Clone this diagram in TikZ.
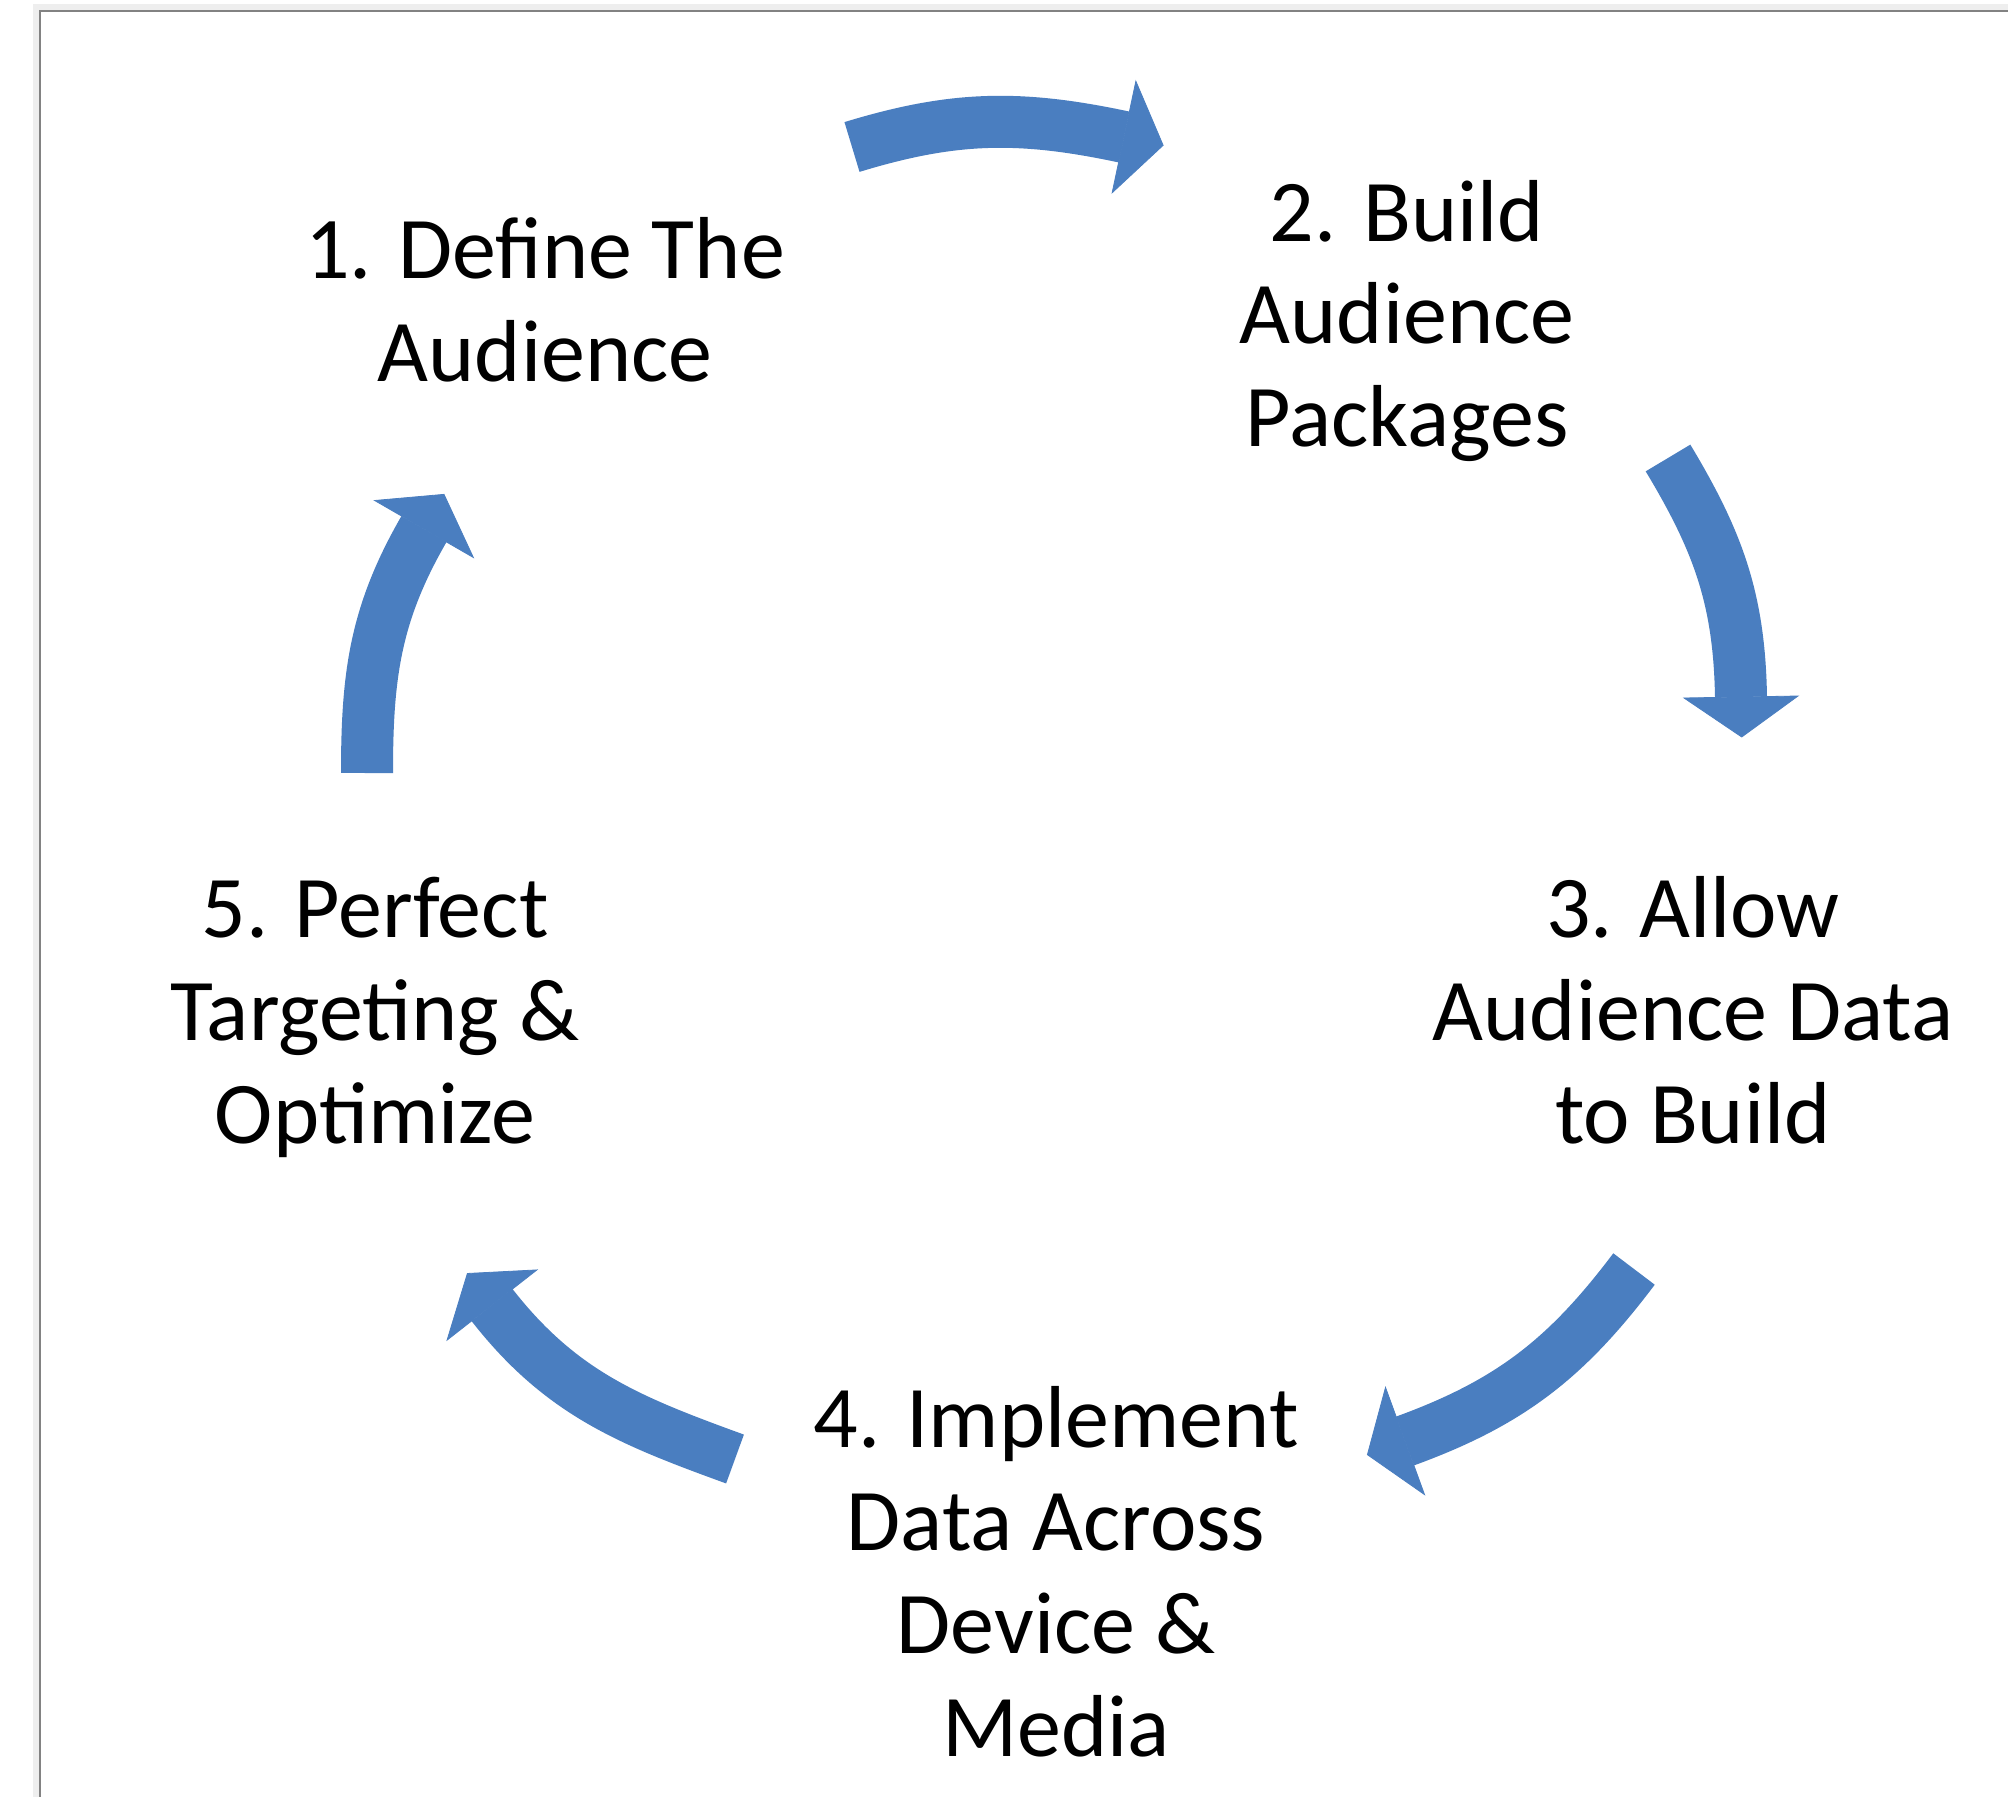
\documentclass[tikz,border=0pt]{standalone}
\usepackage{fontspec}
\setmainfont{Carlito}
\usetikzlibrary{calc}
\definecolor{cycleblue}{RGB}{74,126,192}
\definecolor{framegray}{RGB}{130,130,130}
\definecolor{frameshade}{RGB}{238,238,238}

% curved cycle arrow: #1 tail point, #2 leaving angle, #3 centre of the head's base, #4 heading of the tip
\newcommand{\cyclearrow}[4]{%
  \pgfmathsetmacro{\cycin}{#4+180}%
  \pgfmathsetmacro{\cycl}{#4+90}%
  \pgfmathsetmacro{\cycr}{#4-90}%
  \draw[cyclebody] (#1) to[out=#2,in=\cycin] (#3);
  \filldraw[cyclehead] ($(#3)+(\cycl:57)$) -- ($(#3)+(#4:40)$) -- ($(#3)+(\cycr:57)$) -- cycle;
}

\begin{document}
\begin{tikzpicture}[x=0.5pt,y=0.5pt,
  % labels are anchored at the baseline of their last line
  steplabel/.style={font=\fontsize{44pt}{51.5pt}\selectfont, align=center,
    inner sep=0pt, anchor=base, text=black},
  cyclebody/.style={draw=cycleblue, line width=26pt, line cap=butt},
  cyclehead/.style={fill=cycleblue, draw=cycleblue, line width=0.4pt, line join=miter}]
\useasboundingbox (0,-1797) rectangle (2008,0);
\fill[white] (0,-1797) rectangle (2008,0);

% open frame with a soft edge
\draw[frameshade, line width=3pt] (36,-1797) -- (36,-7) -- (2008,-7);
\draw[framegray, line width=1pt] (40,-1797) -- (40,-11) -- (2008,-11);

% step labels
\node[steplabel] (s1) at (545,-382)  {1. Define The\\Audience};
\node[steplabel] (s2) at (1407,-447) {2. Build\\Audience\\Packages};
\node[steplabel] (s3) at (1693,-1143) {3. Allow\\Audience Data\\to Build};
\node[steplabel] (s4) at (1056,-1756) {4. Implement\\Data Across\\Device \&\\Media};
\node[steplabel] (s5) at (375,-1143)  {5. Perfect\\Targeting \&\\Optimize};

% arrow ends
\coordinate (t1) at (852,-147);  \coordinate (h1) at (1124,-137);
\coordinate (t2) at (1668,-458); \coordinate (h2) at (1741,-697);
\coordinate (t3) at (1634,-1269); \coordinate (h3) at (1405,-1441);
\coordinate (t4) at (735,-1459); \coordinate (h4) at (492,-1305);
\coordinate (t5) at (367,-773);  \coordinate (h5) at (424,-529);

\cyclearrow{t1}{17}{h1}{-12}
\cyclearrow{t2}{-59}{h2}{-89}
\cyclearrow{t3}{-127}{h3}{-160}
\cyclearrow{t4}{160}{h4}{128}
\cyclearrow{t5}{90}{h5}{60}
\end{tikzpicture}
\end{document}
